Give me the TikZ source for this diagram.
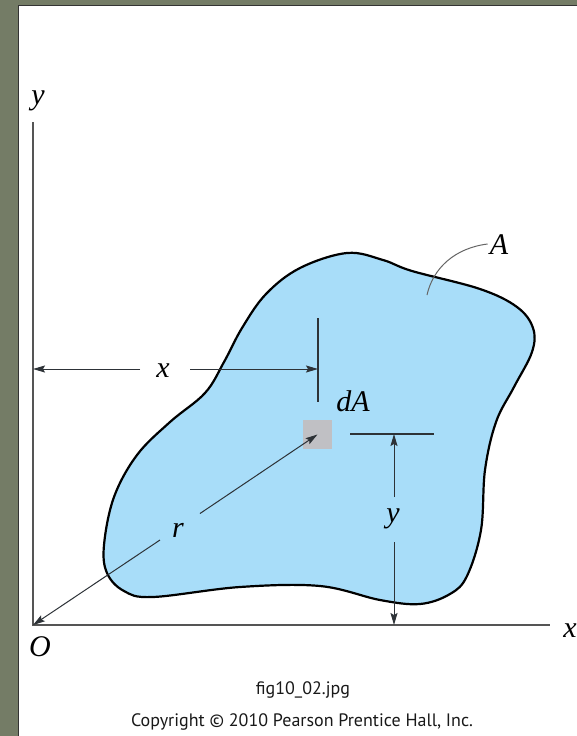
\documentclass[tikz,border=0pt]{standalone}
\usepackage{fontspec}
\setmainfont{Liberation Serif}
\newfontfamily\capfont{PT Sans}
\usetikzlibrary{arrows.meta}
\definecolor{bggreen}{RGB}{116,124,102}
\definecolor{blobblue}{RGB}{168,221,249}
\definecolor{dagray}{RGB}{192,192,196}
\definecolor{dimgray}{RGB}{45,50,55}
\definecolor{axisgray}{RGB}{85,85,85}
\tikzset{
  lbl/.style={font=\fontsize{30}{32}\selectfont\itshape, inner sep=0pt},
  captext/.style={font=\capfont\fontsize{18}{20}\selectfont, text=black!90, inner sep=0pt},
  dimline/.style={draw=dimgray, line width=1pt},
  dimarrow/.style={dimline, -{Stealth[length=12pt,width=7pt,inset=2pt]}},
  axisline/.style={draw=axisgray, line width=2.2pt},
  ticklineA/.style={draw=dimgray, line width=1.1pt},
}
\begin{document}
\begin{tikzpicture}[x=1pt,y=-1pt]
\useasboundingbox (0,0) rectangle (577,736);
\fill[bggreen] (0,0) rectangle (577,736);
\draw[fill=white, draw=black!80, line width=1pt] (18.5,5) rectangle (580,740);

% region
\draw[fill=blobblue, draw=black, line width=2.2pt]
  plot[smooth cycle, tension=0.6] coordinates {
  (300,268) (347,253) (383,260) (412,271) (480,289) (517,307) (533,328) (532,352)
  (514,387) (496,422) (485,470) (481,530) (467,576) (450,594) (420,604) (380,600)
  (320,586) (240,587) (153,597) (124,591) (107,573) (104,545) (114,497) (137,455)
  (170,422) (205,393) (224,362) (242,328) (266,294)};

% dA element
\node[fill=dagray, minimum size=29pt, inner sep=0pt] (dA) at (317.5,434.5) {};
\node[lbl] (dAl) at (353,401) {dA};

% axes
\coordinate (O) at (33,625);
\coordinate (ytop) at (33,122);
\coordinate (xend) at (550,625);
\draw[axisline] (ytop) -- (O) -- (xend);
\node[lbl] (ylab) at (38,101) {y};
\node[lbl] (xlab) at (570,631) {x};
\node[lbl] (Olab) at (40,647) {O};

% x dimension
\coordinate (xtickT) at (318,318);
\coordinate (xtickB) at (318,402);
\draw[ticklineA] (xtickT) -- (xtickB);
\node[lbl] (xd) at (163,371) {x};
\coordinate (xdL) at (140,369);
\coordinate (xdR) at (190,369);
\coordinate (xdA) at (33,369);
\coordinate (xdB) at (318,369);
\draw[dimarrow] (xdL) -- (xdA);
\draw[dimarrow] (xdR) -- (xdB);

% y dimension
\coordinate (ytickL) at (350,434);
\coordinate (ytickR) at (434,434);
\draw[ticklineA] (ytickL) -- (ytickR);
\node[lbl] (yd) at (393,519) {y};
\coordinate (ydU) at (394,497);
\coordinate (ydD) at (394,542);
\coordinate (ydA) at (394,434);
\coordinate (ydB) at (394,625);
\draw[dimarrow] (ydU) -- (ydA);
\draw[dimarrow] (ydD) -- (ydB);

% r
\node[lbl] (rl) at (178,530) {r};
\coordinate (rA) at (160,540);
\coordinate (rB) at (200,513.5);
\draw[dimarrow] (rA) -- (O);
\draw[dimarrow] (rB) -- (dA.center);

% A label
\node[lbl] (Al) at (499,245) {A};
\coordinate (Aend) at (427,295);
\draw[draw=black!60, line width=1pt] (Al.west) ++(-2,-1) .. controls (455,248) and (433,268) .. (Aend);

% captions
\node[captext] (c1) at (303,690) {fig10\_02.jpg};
\node[captext] (c2) at (302,722) {Copyright © 2010 Pearson Prentice Hall, Inc.};
\end{tikzpicture}
\end{document}
